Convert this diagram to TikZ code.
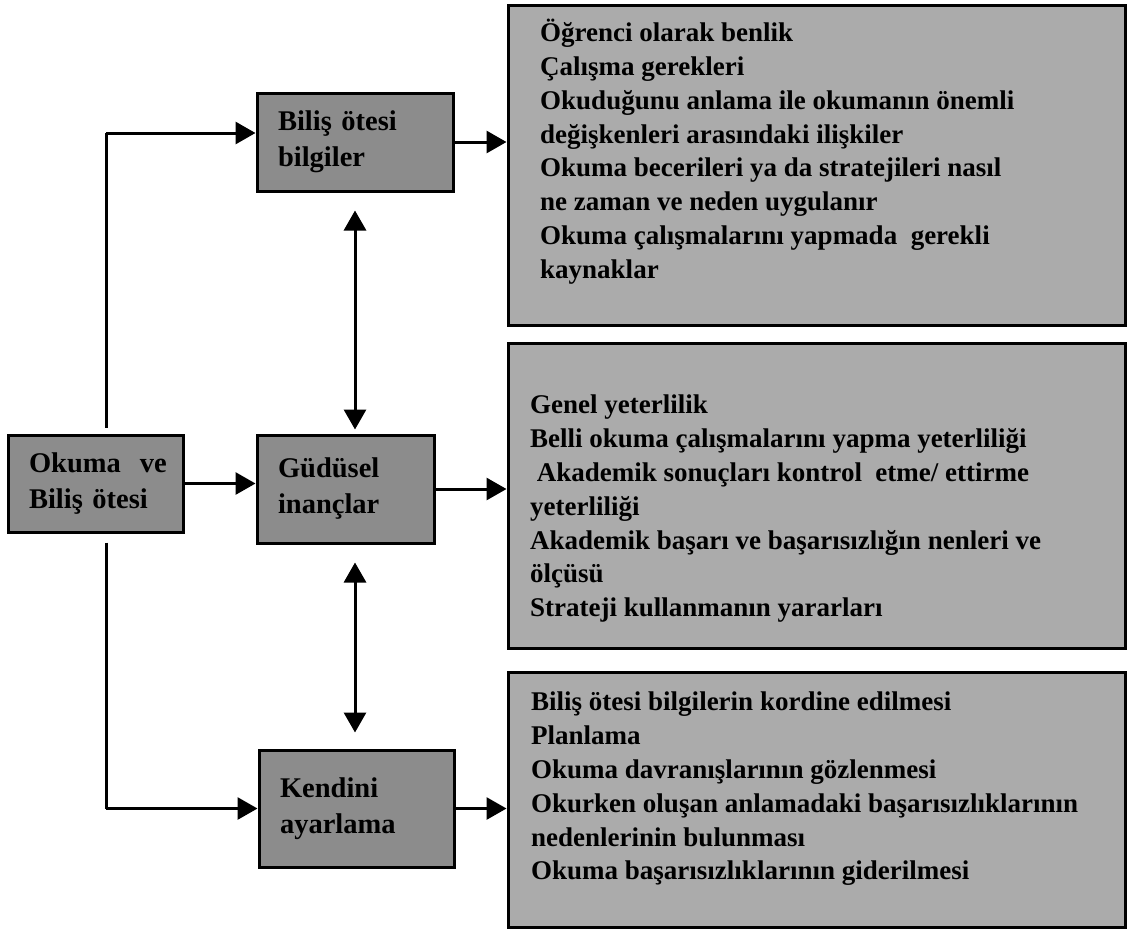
\documentclass[tikz,border=0pt]{standalone}
\usepackage{fontspec}
\setmainfont{Liberation Serif}
\usepackage{tikz}
\usetikzlibrary{arrows.meta}

\begin{document}
\begin{tikzpicture}[x=1pt,y=1pt]
      \tikzstyle{point} = [coordinate]
      \tikzstyle{box} = [rectangle, draw, line width=3pt, fill=black!45, align=left, inner xsep=21pt, inner ysep=0pt, font=\fontsize{28.5}{36}\selectfont\bfseries]
      \tikzstyle{listbox} = [rectangle, draw, line width=3pt, fill=black!33, inner sep=0pt]
      \tikzstyle{items} = [anchor=north west, inner sep=0pt, align=left, font=\fontsize{27}{33.8}\selectfont\bfseries, execute at begin node=\strut]
      \tikzstyle{line} = [line width=3pt]
      \tikzstyle{arrow} = [line width=3pt, -{Triangle[length=20pt,width=22pt]}]
      \tikzstyle{twoway} = [line width=3pt, {Triangle[length=20pt,width=22pt]}-{Triangle[length=20pt,width=22pt]}]
      \useasboundingbox (0,0) rectangle (1129,-930);
      % left column
      \node (okuma) [box, text width=133pt, minimum height=97pt] at (95.5,-483.5) {Okuma~~ve\\Biliş ötesi};
      % middle column
      \node (bilis) [box, text width=154pt, minimum height=98pt] at (355,-142) {Biliş ötesi\\bilgiler};
      \node (gudusel) [box, text width=135pt, minimum height=108pt] at (345.5,-489) {Güdüsel\\inançlar};
      \node (kendini) [box, text width=153pt, minimum height=117pt] at (356.5,-808.5) {Kendini\\ayarlama};
      % right column
      \node (kutuA) [listbox, minimum width=617pt, minimum height=320pt] at (816.5,-165) {};
      \node (kutuB) [listbox, minimum width=617pt, minimum height=305pt] at (816.5,-495.5) {};
      \node (kutuC) [listbox, minimum width=617pt, minimum height=255pt] at (816.5,-799.5) {};
      \node (listeA) [items] at (540,-19) {Öğrenci olarak benlik\\
        Çalışma gerekleri\\
        Okuduğunu anlama ile okumanın önemli\\
        değişkenleri arasındaki ilişkiler\\
        Okuma becerileri ya da stratejileri nasıl\\
        ne zaman ve neden uygulanır\\
        Okuma çalışmalarını yapmada~~gerekli\\
        kaynaklar};
      \node (listeB) [items] at (530,-395) {Genel yeterlilik\\
        Belli okuma çalışmalarını yapma yeterliliği\\
        \ Akademik sonuçları kontrol~~etme/ ettirme\\
        yeterliliği\\
        Akademik başarı ve başarısızlığın nenleri ve\\
        ölçüsü\\
        Strateji kullanmanın yararları};
      \node (listeC) [items] at (531,-692) {Biliş ötesi bilgilerin kordine edilmesi\\
        Planlama\\
        Okuma davranışlarının gözlenmesi\\
        Okurken oluşan anlamadaki başarısızlıklarının\\
        nedenlerinin bulunması\\
        Okuma başarısızlıklarının giderilmesi};
      % branch points
      \node (p1) [point] at (106,-133) {};
      \node (p2) [point] at (106,-808.5) {};
      \draw [line, shorten <=6pt] (okuma.north -| p1)--(p1);
      \draw [arrow] (p1)--(p1 -| bilis.west);
      \draw [line, shorten <=9pt] (okuma.south -| p2)--(p2);
      \draw [arrow] (p2)--(kendini.west);
      \draw [arrow] (okuma.east)--(okuma.east -| gudusel.west);
      \draw [arrow] (bilis.east)--(bilis.east -| kutuA.west);
      \draw [arrow] (gudusel.east)--(gudusel.east -| kutuB.west);
      \draw [arrow] (kendini.east)--(kendini.east -| kutuC.west);
      \draw [twoway, shorten <=18pt, shorten >=4pt] (bilis.south)--(gudusel.north -| bilis.south);
      \draw [twoway, shorten <=18pt, shorten >=16pt] (gudusel.south -| bilis.south)--(kendini.north -| bilis.south);
    \end{tikzpicture}
\end{document}
